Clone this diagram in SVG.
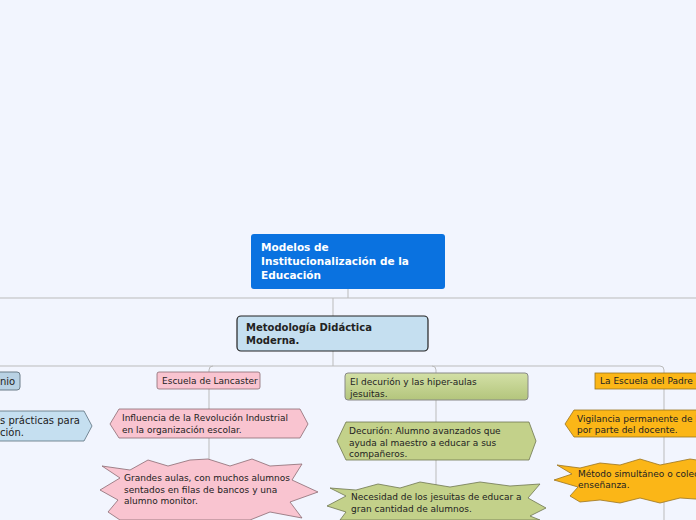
<svg xmlns="http://www.w3.org/2000/svg" width="696" height="520" viewBox="0 0 696 520">
<style>
text{font-family:"DejaVu Sans",Verdana,sans-serif;font-size:9px;fill:#222}
.b{font-weight:bold}
.c{fill:none;stroke:#bbb;stroke-width:1}
.pk{fill:#f9c4d0;stroke:#8a6b72;stroke-width:0.8}
.gr{fill:#c3d18a;stroke:#6e7650;stroke-width:0.8}
.or{fill:#fbb617;stroke:#9a7420;stroke-width:0.8}
.bl{fill:#c5dff0;stroke:#5b6f7c;stroke-width:0.8}
</style>
<defs>
<linearGradient id="g" x1="0" y1="0" x2="0" y2="1"><stop offset="0" stop-color="#d3e0a6"/><stop offset="1" stop-color="#b3c57c"/></linearGradient>
</defs>
<rect width="696" height="520" fill="#f2f5fe"/>
<g id="connectors">
<path class="c" d="M348 289V298M0 298H696M333 298V316"/>
<path class="c" d="M333 351V366M0 366H660Q664 366 664 370V520M209 370Q209 366 213 366M432 366Q436 366 436 370V520M209 370V520"/>
</g>
<g id="root"><rect x="251" y="234" width="194" height="55" rx="3" fill="#0a72e0"/>
<text class="b" x="261" y="251" style="fill:#fff;font-size:10.5px">Modelos de</text>
<text class="b" x="261" y="265" style="fill:#fff;font-size:10.5px">Institucionalización de la</text>
<text class="b" x="261" y="279" style="fill:#fff;font-size:10.5px">Educación</text></g>
<g id="metodologia"><rect x="237" y="316" width="191" height="35" rx="4" fill="#c5dff0" stroke="#222" stroke-width="1.2"/>
<text class="b" x="246" y="331" style="font-size:10px">Metodología Didáctica</text>
<text class="b" x="246" y="344" style="font-size:10px">Moderna.</text></g>
<g id="left1"><rect x="-10" y="372" width="30" height="18" rx="3" fill="#b9d2e4" stroke="#6a7c88"/><text x="0" y="385" style="font-size:10px">nio</text></g>
<g id="left2"><polygon class="bl" points="-10,411 84,411 92,426 84,441 -10,441"/><text x="0" y="424" style="font-size:10px">s prácticas para</text><text x="0" y="436" style="font-size:10px">ción.</text></g>
<g id="lancaster"><rect class="pk" x="157" y="372" width="103" height="17" rx="2"/><text x="162" y="384">Escuela de Lancaster</text></g>
<g id="lan1"><polygon class="pk" points="110,424 119,409 300,409 308,424 300,438 119,438"/><text x="122" y="421">Influencia de la Revolución Industrial</text><text x="122" y="433">en la organización escolar.</text></g>
<g id="lan2"><polygon class="pk" points="102,466 130,470 148,460 168,466 190,460 208,459 230,466 252,459 270,466 302,464 292,480 318,492 290,502 302,518 270,512 250,520 120,520 108,512 118,500 100,490 120,478"/><text x="124" y="481">Grandes aulas, con muchos alumnos</text><text x="124" y="493">sentados en filas de bancos y una</text><text x="124" y="504">alumno monitor.</text></g>
<g id="decurion"><rect x="345" y="373" width="183" height="27" rx="3" fill="url(#g)" stroke="#888"/><text x="350" y="385">El decurión y las hiper-aulas</text><text x="350" y="397">jesuitas.</text></g>
<g id="dec1"><polygon class="gr" points="337,441 346,422 529,422 536,441 529,460 346,460"/><text x="349" y="434">Decurión: Alumno avanzados que</text><text x="349" y="446">ayuda al maestro a educar a  sus</text><text x="349" y="457">compañeros.</text></g>
<g id="dec2"><polygon class="gr" points="330,488 356,490 378,484 400,488 420,482 450,487 480,482 510,486 540,484 528,498 546,508 530,516 540,520 340,520 346,512 327,506 346,496"/><text x="351" y="500">Necesidad de los jesuitas de educar a</text><text x="351" y="512">gran cantidad de alumnos.</text></g>
<g id="padre"><rect class="or" x="595" y="373" width="110" height="16"/><text x="600" y="384">La Escuela del Padre</text></g>
<g id="pad1"><polygon class="or" points="565,424 574,410 710,410 710,437 574,437"/><text x="577" y="422">Vigilancia permanente de l</text><text x="577" y="433">por parte del docente.</text></g>
<g id="pad2"><polygon class="or" points="557,465 580,468 600,463 620,465 640,459 660,465 690,459 710,462 710,500 680,498 660,503 640,498 620,503 600,500 580,502 570,496 578,487 554,480 572,474"/><text x="578" y="477">Método simultáneo o colec</text><text x="578" y="488">enseñanza.</text></g>
</svg>
